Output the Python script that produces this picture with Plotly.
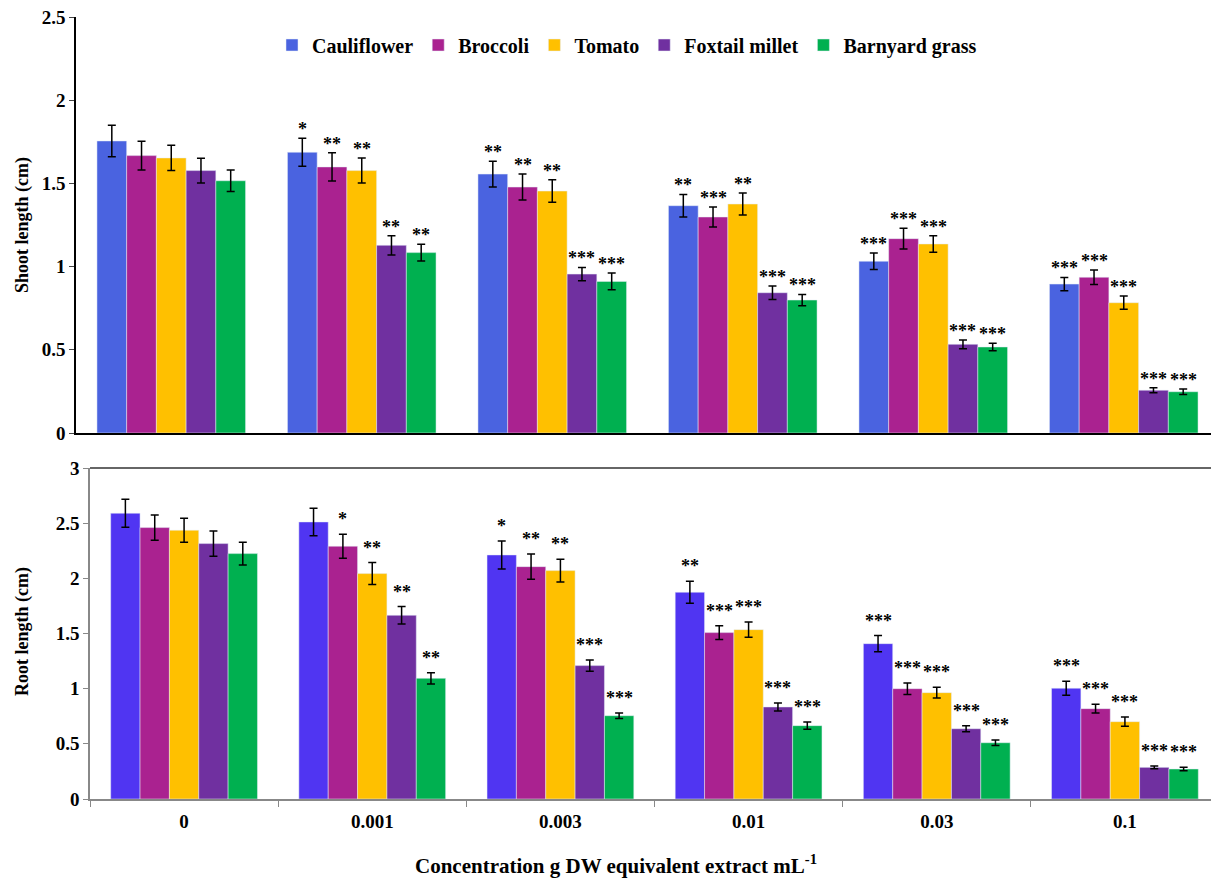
import plotly.graph_objects as go

categories = ["0", "0.001", "0.003", "0.01", "0.03", "0.1"]
series = ["Cauliflower", "Broccoli", "Tomato", "Foxtail millet", "Barnyard grass"]

# Shoot length (cm)
shoot_cauliflower = [1.755, 1.687, 1.556, 1.366, 1.032, 0.895]
shoot_broccoli = [1.667, 1.599, 1.478, 1.298, 1.168, 0.936]
shoot_tomato = [1.653, 1.577, 1.454, 1.376, 1.136, 0.783]
shoot_foxtail = [1.577, 1.128, 0.955, 0.843, 0.533, 0.257]
shoot_barnyard = [1.516, 1.084, 0.911, 0.799, 0.517, 0.248]

shoot_err_cauliflower = [0.095, 0.084, 0.077, 0.068, 0.050, 0.040]
shoot_err_broccoli = [0.087, 0.085, 0.078, 0.060, 0.062, 0.044]
shoot_err_tomato = [0.076, 0.075, 0.068, 0.066, 0.050, 0.040]
shoot_err_foxtail = [0.074, 0.058, 0.040, 0.040, 0.026, 0.015]
shoot_err_barnyard = [0.065, 0.050, 0.050, 0.034, 0.022, 0.016]

shoot_sig_cauliflower = ["", "*", "**", "**", "***", "***"]
shoot_sig_broccoli = ["", "**", "**", "***", "***", "***"]
shoot_sig_tomato = ["", "**", "**", "**", "***", "***"]
shoot_sig_foxtail = ["", "**", "***", "***", "***", "***"]
shoot_sig_barnyard = ["", "**", "***", "***", "***", "***"]

# Root length (cm)
root_cauliflower = [2.590, 2.511, 2.212, 1.874, 1.408, 1.004]
root_broccoli = [2.460, 2.291, 2.106, 1.508, 1.000, 0.819]
root_tomato = [2.436, 2.043, 2.070, 1.535, 0.964, 0.701]
root_foxtail = [2.315, 1.665, 1.209, 0.834, 0.637, 0.287]
root_barnyard = [2.224, 1.094, 0.755, 0.665, 0.510, 0.272]

root_err_cauliflower = [0.127, 0.124, 0.127, 0.100, 0.073, 0.063]
root_err_broccoli = [0.115, 0.109, 0.115, 0.063, 0.052, 0.040]
root_err_tomato = [0.109, 0.100, 0.103, 0.070, 0.049, 0.042]
root_err_foxtail = [0.115, 0.079, 0.051, 0.036, 0.028, 0.012]
root_err_barnyard = [0.103, 0.051, 0.025, 0.033, 0.025, 0.015]

root_sig_cauliflower = ["", "", "*", "**", "***", "***"]
root_sig_broccoli = ["", "*", "**", "***", "***", "***"]
root_sig_tomato = ["", "**", "**", "***", "***", "***"]
root_sig_foxtail = ["", "**", "***", "***", "***", "***"]
root_sig_barnyard = ["", "**", "***", "***", "***", "***"]

top_colors = ["#4A63E0", "#AA2290", "#FFC000", "#7030A0", "#00B050"]
bottom_colors = ["#5035F2", "#AA2290", "#FFC000", "#7030A0", "#00B050"]

shoot_vals = [shoot_cauliflower, shoot_broccoli, shoot_tomato, shoot_foxtail, shoot_barnyard]
shoot_errs = [shoot_err_cauliflower, shoot_err_broccoli, shoot_err_tomato, shoot_err_foxtail, shoot_err_barnyard]
shoot_sigs = [shoot_sig_cauliflower, shoot_sig_broccoli, shoot_sig_tomato, shoot_sig_foxtail, shoot_sig_barnyard]
root_vals = [root_cauliflower, root_broccoli, root_tomato, root_foxtail, root_barnyard]
root_errs = [root_err_cauliflower, root_err_broccoli, root_err_tomato, root_err_foxtail, root_err_barnyard]
root_sigs = [root_sig_cauliflower, root_sig_broccoli, root_sig_tomato, root_sig_foxtail, root_sig_barnyard]

FONT = "Liberation Serif"
OFF = 8  # page body margin
W, H = 1219 - OFF, 885 - OFF


def fx(px):
    return (px - OFF) / W


def fy(py):
    return 1 - (py - OFF) / H


fig = go.Figure()
err_style = dict(type="data", color="black", thickness=1.5, width=4)

for i, name in enumerate(series):
    fig.add_trace(go.Bar(
        x=categories, y=shoot_vals[i], name=name, marker_color=top_colors[i],
        error_y=dict(array=shoot_errs[i], **err_style),
        xaxis="x", yaxis="y", offsetgroup=str(i), legendgroup=name,
    ))
for i, name in enumerate(series):
    fig.add_trace(go.Bar(
        x=categories, y=root_vals[i], name=name, marker_color=bottom_colors[i],
        error_y=dict(array=root_errs[i], **err_style),
        xaxis="x2", yaxis="y2", offsetgroup=str(i), legendgroup=name, showlegend=False,
    ))

# significance stars
n = len(series)
group_w = 1 - 0.22
bar_w = group_w / n
annotations = []
for vals, errs, sigs, xa, ya, ys in [
    (shoot_vals, shoot_errs, shoot_sigs, "x", "y", -3),
    (root_vals, root_errs, root_sigs, "x2", "y2", 3),
]:
    for i in range(n):
        off = -group_w / 2 + bar_w * (i + 0.5)
        for j, c in enumerate(categories):
            s = sigs[i][j]
            if not s:
                continue
            annotations.append(dict(
                x=j + off, y=vals[i][j] + errs[i][j], xref=xa, yref=ya,
                text="<b>%s</b>" % s, showarrow=False, yanchor="bottom", yshift=ys,
                font=dict(family=FONT, size=18, color="black"),
            ))

annotations += [
    dict(text="<b>Shoot length (cm)</b>", x=fx(22), y=fy(225), xref="paper", yref="paper",
         xanchor="center", yanchor="middle",
         textangle=-90, showarrow=False, font=dict(family=FONT, size=18, color="black")),
    dict(text="<b>Root length (cm)</b>", x=fx(22), y=fy(632), xref="paper", yref="paper",
         xanchor="center", yanchor="middle",
         textangle=-90, showarrow=False, font=dict(family=FONT, size=18, color="black")),
    dict(text="<b>Concentration g DW equivalent extract mL<sup>-1</sup></b>", x=fx(616), y=fy(864),
         xref="paper", yref="paper", xanchor="center", yanchor="middle",
         showarrow=False, font=dict(family=FONT, size=21, color="black")),
]

top_dom = [fy(433), fy(17)]
bot_dom = [fy(799), fy(468)]
tickfont = dict(family=FONT, size=19, color="black")

fig.update_layout(
    width=W, height=H, margin=dict(l=0, r=0, t=0, b=0, autoexpand=False),
    paper_bgcolor="white", plot_bgcolor="white",
    barmode="group", bargap=0.22, bargroupgap=0,
    xaxis=dict(domain=[fx(76), 1], showticklabels=False, ticks="", showline=True,
               linecolor="black", linewidth=1.5, anchor="y", showgrid=False, automargin=False),
    yaxis=dict(domain=top_dom, range=[0, 2.5], tickvals=[0, 0.5, 1, 1.5, 2, 2.5],
               ticktext=["<b>0</b>", "<b>0.5</b>", "<b>1</b>", "<b>1.5</b>", "<b>2</b>", "<b>2.5</b>"],
               showline=True, linecolor="black", linewidth=1.5, ticks="outside", ticklen=5,
               tickfont=tickfont, showgrid=False, zeroline=False, anchor="x", automargin=False,
               ticklabeloverflow="allow"),
    xaxis2=dict(domain=[fx(90), 1], anchor="y2", showline=True, linecolor="#888", linewidth=1.5,
                ticks="outside", ticklen=6, tickcolor="#888", tickson="boundaries",
                tickvals=categories, ticktext=["<b>%s</b>" % c for c in categories],
                tickfont=tickfont, showgrid=False, automargin=False, ticklabelstandoff=4),
    yaxis2=dict(domain=bot_dom, range=[0, 3], tickvals=[0, 0.5, 1, 1.5, 2, 2.5, 3],
                ticktext=["<b>0</b>", "<b>0.5</b>", "<b>1</b>", "<b>1.5</b>", "<b>2</b>", "<b>2.5</b>", "<b>3</b>"],
                showline=True, linecolor="#888", linewidth=1.5, ticks="outside", ticklen=5, tickcolor="#888",
                tickfont=tickfont, showgrid=False, zeroline=False, anchor="x2", automargin=False,
                ticklabeloverflow="allow"),
    legend=dict(orientation="h", x=fx(627), xanchor="center", y=fy(45), yanchor="middle",
                font=dict(family=FONT, size=20, color="black", weight="bold"), bgcolor="rgba(0,0,0,0)",
                itemwidth=30, tracegroupgap=0),
    annotations=annotations,
    shapes=[dict(type="line", xref="paper", yref="paper", x0=fx(90), x1=1, y0=bot_dom[1], y1=bot_dom[1],
                 line=dict(color="#333", width=1.5))],
)

fig.write_html("out.html")
